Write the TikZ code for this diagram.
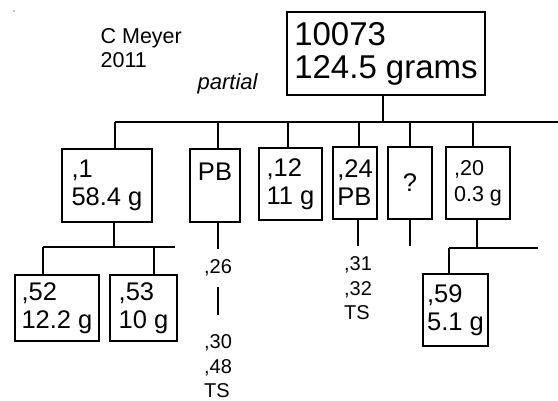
\documentclass[tikz,border=0pt]{standalone}
\usepackage{fontspec}
\setmainfont{Liberation Sans}

\begin{document}
\begin{tikzpicture}[x=1pt,y=-1pt,line width=1.3pt,
  mainbox/.style={draw,align=left,inner sep=3pt,minimum width=198pt,minimum height=83pt,font=\fontsize{33}{33}\selectfont},
  itembox/.style={draw,align=left,inner sep=3pt,minimum height=73pt,font=\fontsize{25.5}{28}\selectfont},
  numlabel/.style={align=left,inner sep=0pt,font=\fontsize{20}{24.5}\selectfont}]
      \useasboundingbox (0,0) rectangle (558,400);
      \fill (14,11) circle (0.6pt);
      \node[align=left,inner sep=0pt,anchor=north west,font=\fontsize{21.5}{24}\selectfont] (author) at (100,28) {C Meyer\\2011};
      \node[inner sep=0pt,anchor=base west,font=\fontsize{22}{24}\selectfont\itshape] (partial) at (197,89) {partial};
      \node[mainbox] (lot) at (386,53.5) {10073\\124.5 grams};
      \coordinate (bus) at (115,122);
      \coordinate (busend) at (558,122);
      \node[itembox,minimum width=90pt] (one) at (107,185.5) {,1\\58.4 g};
      \node[itembox,minimum width=50pt] (pb) at (215,185.5) {PB\\~};
      \node[itembox,minimum width=63pt,minimum height=72pt] (twelve) at (290.5,184) {,12\\11 g};
      \node[itembox,minimum width=44pt,minimum height=72pt] (twentyfour) at (355,183) {,24\\PB};
      \node[itembox,minimum width=44pt,minimum height=72pt] (unknown) at (410,183) {?};
      \node[itembox,minimum width=64pt,minimum height=72pt,font=\fontsize{21.5}{26}\selectfont] (twenty) at (478,183) {,20\\0.3 g};
      \draw ([xshift=-3pt]lot.south) -- ([xshift=-3pt]lot.south |- bus);
      \draw (bus) -- (busend);
      \draw ([xshift=8pt]one.north) -- ([xshift=8pt]one.north |- bus);
      \draw ([xshift=3pt]pb.north) -- ([xshift=3pt]pb.north |- bus);
      \draw ([xshift=-2.5pt]twelve.north) -- ([xshift=-2.5pt]twelve.north |- bus);
      \draw ([xshift=4pt]twentyfour.north) -- ([xshift=4pt]twentyfour.north |- bus);
      \draw (unknown.north) -- (unknown.north |- bus);
      \draw ([xshift=-5pt]twenty.north) -- ([xshift=-5pt]twenty.north |- bus);
      \coordinate (subbus) at (43,247);
      \coordinate (subbusend) at (175,247);
      \node[itembox,minimum width=84pt,minimum height=66pt] (fiftytwo) at (57,308) {,52\\12.2 g};
      \node[itembox,minimum width=67pt,minimum height=66pt] (fiftythree) at (143.5,308) {,53\\10 g};
      \draw ([xshift=7pt]one.south) -- ([xshift=7pt]one.south |- subbus);
      \draw (subbus) -- (subbusend);
      \draw ([xshift=-14pt]fiftytwo.north) -- ([xshift=-14pt]fiftytwo.north |- subbus);
      \draw ([xshift=10.5pt]fiftythree.north) -- ([xshift=10.5pt]fiftythree.north |- subbus);
      \node[numlabel,anchor=north] (n26) at (218,259) {,26};
      \node[numlabel,anchor=north] (n30) at (218,334) {,30\\,48\\TS};
      \draw[shorten >=10pt] ([xshift=3pt]pb.south) -- (n26.north);
      \draw[shorten <=10.5pt,shorten >=19pt] (n26.south) -- (n30.north);
      \node[numlabel,anchor=north] (n31) at (358,256) {,31\\,32\\TS};
      \draw[shorten >=10pt] ([xshift=3pt]twentyfour.south) -- (n31.north);
      \coordinate (qend) at (410,246);
      \draw (unknown.south) -- (qend);
      \coordinate (subbustwo) at (449,248);
      \coordinate (subbustwoend) at (538,248);
      \node[itembox,minimum width=65pt,minimum height=72pt] (fiftynine) at (455.5,310) {,59\\5.1 g};
      \draw ([xshift=-1pt]twenty.south) -- ([xshift=-1pt]twenty.south |- subbustwo);
      \draw (subbustwo) -- (subbustwoend);
      \draw ([xshift=-6.5pt]fiftynine.north) -- ([xshift=-6.5pt]fiftynine.north |- subbustwo);
\end{tikzpicture}
\end{document}
